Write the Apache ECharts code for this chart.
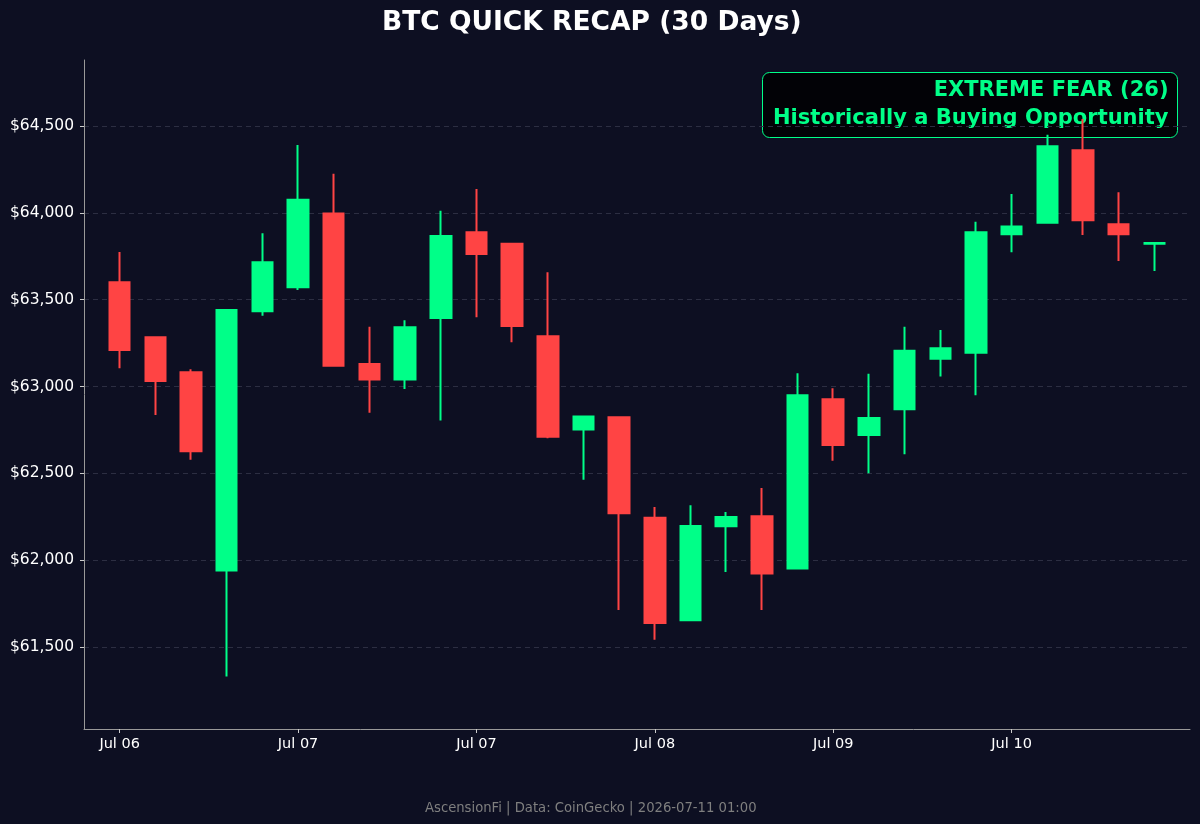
<!DOCTYPE html>
<html>
<head>
<meta charset="utf-8">
<title>BTC QUICK RECAP</title>
<script src="https://cdn.jsdelivr.net/npm/echarts@6/dist/echarts.min.js"></script>
<style>
  html, body { margin: 0; padding: 0; background: #0d0f22; }
  #BtcRecapDiv { width: 1200px; height: 824px; }
</style>
</head>
<body>
<div id="BtcRecapDiv"></div>
<script>
//K线数据（开、收、低、高），每根一个
var openPrices  = [63600, 63283, 63082, 61940, 63433, 63572, 63996, 63130, 63040, 63395,
                   63888, 63822, 63289, 62752, 62823, 62245, 61654, 62196, 62253, 61952,
                   62926, 62721, 62869, 63160, 63195, 63876, 63943, 64360, 63934, 63822];
var closePrices = [63210, 63032, 62627, 63440, 63715, 64076, 63120, 63040, 63341, 63867,
                   63763, 63348, 62711, 62827, 62270, 61638, 62197, 62249, 61924, 62950,
                   62663, 62819, 63206, 63220, 63888, 63922, 64383, 63957, 63876, 63826];
var lowPrices   = [63105, 62836, 62579, 61330, 63408, 63556, 63114, 62849, 62985, 62805,
                   63399, 63255, 62702, 62463, 61713, 61542, 61650, 61932, 61713, 61948,
                   62573, 62500, 62610, 63058, 62949, 63773, 63938, 63872, 63723, 63665];
var highPrices  = [63775, 63290, 63100, 63440, 63882, 64391, 64225, 63344, 63381, 64012,
                   64137, 63822, 63658, 62827, 62823, 62306, 62316, 62277, 62416, 63076,
                   62990, 63074, 63344, 63325, 63949, 64108, 64450, 64540, 64118, 63826];
//横轴刻度（每5根一个）
var tickLabels = ['Jul 06', 'Jul 07', 'Jul 07', 'Jul 08', 'Jul 09', 'Jul 10'];
var tickStep = 5;
//纵轴刻度
var priceTicks = [61500, 62000, 62500, 63000, 63500, 64000, 64500];

var upColor = '#00ff88';
var downColor = '#ff4444';

var BtcRecapChart;

window.onload = function () {
    BtcRecapChart = echarts.init(document.getElementById('BtcRecapDiv'));
    BtcRecapChart.setOption(GetCandleOption());
};

//前后各留一格空位
function GetCategories() {
    var cats = [''];
    for (var i = 0; i < openPrices.length; i++) {
        cats.push(i % tickStep === 0 ? tickLabels[i / tickStep] : '');
    }
    cats.push('');
    return cats;
}

function GetCandleData() {
    var data = ['-'];
    for (var i = 0; i < openPrices.length; i++) {
        data.push([openPrices[i], closePrices[i], lowPrices[i], highPrices[i]]);
    }
    data.push('-');
    return data;
}

function GetCandleOption() {
    var cats = GetCategories();
    var showTick = function (index) { return cats[index] !== ''; };
    var noteFont = 'bold 21px "DejaVu Sans"';
    return {
        backgroundColor: '#0d0f22',
        animation: false,
        title: [{
            text: 'BTC QUICK RECAP (30 Days)',
            left: 377,
            top: 5,
            textStyle: { color: '#ffffff', fontSize: 26.5, fontWeight: 'bold', fontFamily: 'DejaVu Sans' }
        }, {
            text: 'AscensionFi | Data: CoinGecko | 2026-07-11 01:00',
            left: 420,
            top: 797,
            textStyle: { color: '#7f7f7f', fontSize: 13.2, fontWeight: 'normal', fontFamily: 'DejaVu Sans' }
        }],
        //右上角情绪提示框
        graphic: [{
            type: 'group',
            left: 762,
            top: 72,
            z: 100,
            children: [{
                type: 'rect',
                shape: { x: 0, y: 0, width: 415, height: 65, r: 7 },
                style: { fill: 'rgba(0,0,0,0.82)', stroke: upColor, lineWidth: 1 }
            }, {
                type: 'text',
                x: 406, y: 18,
                style: { text: 'EXTREME FEAR (26)', align: 'right', verticalAlign: 'middle', fill: upColor, font: noteFont }
            }, {
                type: 'text',
                x: 406, y: 46,
                style: { text: 'Historically a Buying Opportunity', align: 'right', verticalAlign: 'middle', fill: upColor, font: noteFont }
            }]
        }],
        grid: { left: 84, right: 10, top: 60, bottom: 95 },
        xAxis: {
            type: 'category',
            data: cats,
            boundaryGap: false,
            axisLine: { lineStyle: { color: '#999999', width: 1 } },
            axisTick: { interval: showTick, length: 4, lineStyle: { color: '#cccccc' } },
            axisLabel: { interval: showTick, color: '#ffffff', fontSize: 14.5, fontFamily: 'DejaVu Sans', margin: 8 },
            splitLine: { show: false }
        },
        yAxis: {
            type: 'value',
            min: 61028,
            max: 64880,
            axisLine: { show: true, lineStyle: { color: '#999999', width: 1 } },
            axisTick: { show: true, length: 4, customValues: priceTicks, lineStyle: { color: '#cccccc' } },
            axisLabel: {
                customValues: priceTicks,
                color: '#ffffff', fontSize: 15.5, fontFamily: 'DejaVu Sans', margin: 10,
                formatter: function (v) { return '$' + v.toLocaleString('en-US'); }
            },
            splitLine: { show: true, lineStyle: { color: '#2c2e42', type: [5, 4], width: 1 } }
        },
        series: [{
            type: 'candlestick',
            data: GetCandleData(),
            barWidth: 21,
            itemStyle: {
                color: upColor,
                color0: downColor,
                borderColor: upColor,
                borderColor0: downColor,
                borderWidth: 2
            }
        }]
    };
}
</script>
</body>
</html>
